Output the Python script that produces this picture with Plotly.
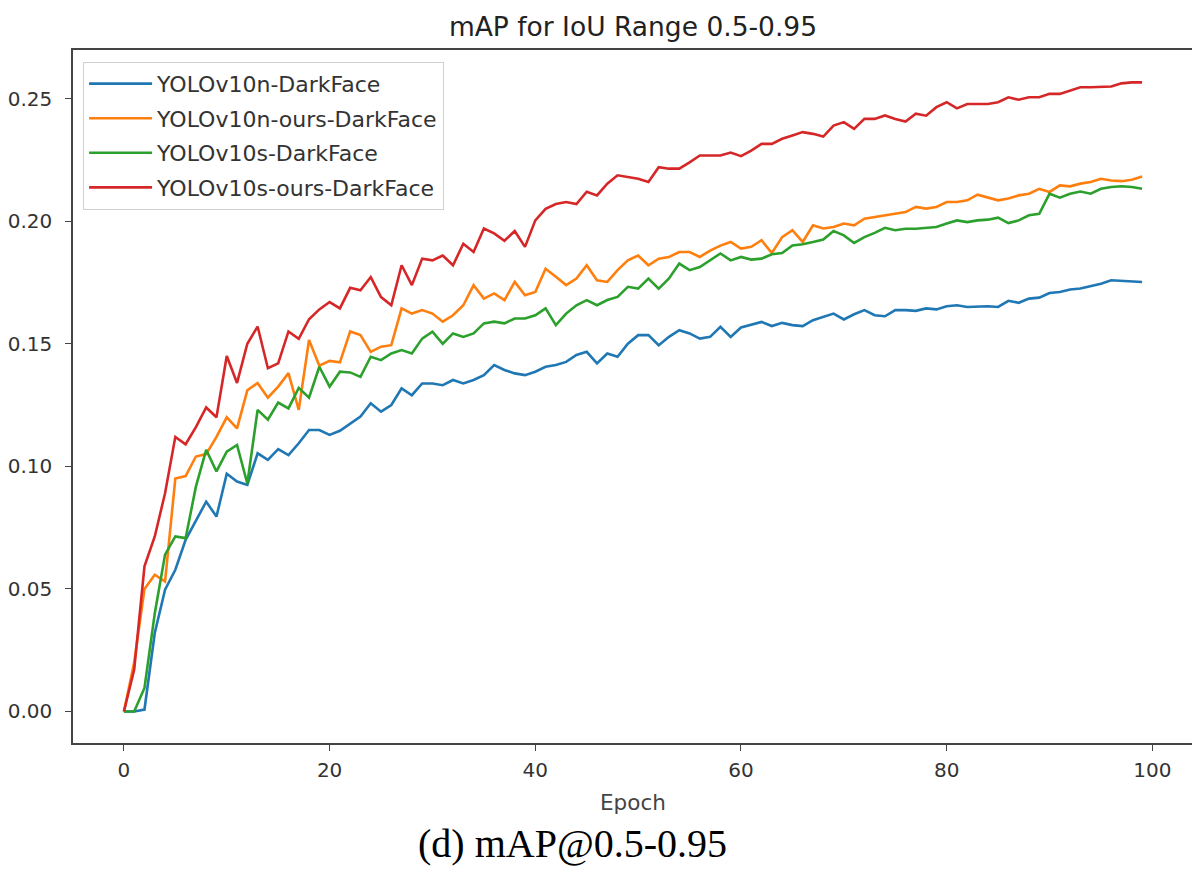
import plotly.graph_objects as go

# epochs 0..99, values
epochs = list(range(100))

yolov10n = [0.0, 0.0, 0.0008, 0.032, 0.0497, 0.0578, 0.070, 0.078, 0.0856, 0.0795,
            0.097, 0.0938, 0.0924, 0.1053, 0.1026, 0.107, 0.1046, 0.1094, 0.1148, 0.1148,
            0.1128, 0.1145, 0.1175, 0.1203, 0.1257, 0.1223, 0.125, 0.1318, 0.129, 0.1338,
            0.1338, 0.1331, 0.1352, 0.1338, 0.1352, 0.1372, 0.1413, 0.1393, 0.1379, 0.1372,
            0.1386, 0.1406, 0.1413, 0.1426, 0.1454, 0.1467, 0.142, 0.146, 0.1447, 0.150,
            0.1535, 0.1535, 0.1494, 0.1528, 0.1555, 0.1542, 0.1521, 0.1528, 0.1569, 0.1528,
            0.1566, 0.1576, 0.1589, 0.1572, 0.1585, 0.1576, 0.1572, 0.1596, 0.161, 0.1623,
            0.1599, 0.162, 0.1637, 0.1616, 0.1612, 0.1637, 0.1637, 0.1634, 0.1644, 0.164,
            0.1653, 0.1657, 0.165, 0.1653, 0.1653, 0.165, 0.1675, 0.1667, 0.1684, 0.1688,
            0.1707, 0.1711, 0.1721, 0.1725, 0.1735, 0.1745, 0.1759, 0.1756, 0.1756, 0.1752]

yolov10n_ours = [0.0, 0.02, 0.050, 0.0558, 0.053, 0.095, 0.096, 0.104, 0.105, 0.112,
                 0.120, 0.1155, 0.131, 0.134, 0.128, 0.1325, 0.138, 0.123, 0.1515, 0.141,
                 0.143, 0.1424, 0.155, 0.1535, 0.1467, 0.1488, 0.1494, 0.1644, 0.1623, 0.1637,
                 0.1623, 0.159, 0.1616, 0.1657, 0.1739, 0.1684, 0.1705, 0.1678, 0.1752, 0.1698,
                 0.1711, 0.1806, 0.1773, 0.1739, 0.1766, 0.182, 0.1759, 0.1752, 0.180, 0.184,
                 0.186, 0.182, 0.1847, 0.1854, 0.1874, 0.1874, 0.1854, 0.188, 0.190, 0.1915,
                 0.1888, 0.1895, 0.1922, 0.187, 0.1935, 0.1963, 0.1915, 0.1983, 0.197, 0.1976,
                 0.199, 0.1983, 0.201, 0.2017, 0.2024, 0.203, 0.2037, 0.2058, 0.2051, 0.2058,
                 0.2078, 0.2078, 0.2085, 0.2108, 0.2098, 0.2085, 0.2092, 0.2105, 0.2112, 0.2132,
                 0.2119, 0.2146, 0.2142, 0.2153, 0.216, 0.2173, 0.2166, 0.2163, 0.2169, 0.2182]

yolov10s = [0.0, 0.0, 0.0096, 0.040, 0.064, 0.0714, 0.0707, 0.0917, 0.1067, 0.0979,
            0.106, 0.1087, 0.093, 0.123, 0.119, 0.126, 0.1236, 0.132, 0.128, 0.1406,
            0.1325, 0.1386, 0.1383, 0.1365, 0.1447, 0.1433, 0.146, 0.1474, 0.146, 0.1521,
            0.1549, 0.150, 0.1542, 0.1528, 0.1542, 0.1583, 0.159, 0.1583, 0.1603, 0.1603,
            0.1616, 0.1644, 0.1576, 0.1623, 0.1657, 0.1678, 0.1657, 0.1678, 0.1691, 0.1732,
            0.1725, 0.1766, 0.1725, 0.1766, 0.1827, 0.180, 0.1813, 0.184, 0.1868, 0.184,
            0.1854, 0.1843, 0.1847, 0.1865, 0.187, 0.1901, 0.1906, 0.1915, 0.1925, 0.196,
            0.1942, 0.1911, 0.1935, 0.1952, 0.1973, 0.1963, 0.1969, 0.1969, 0.1973, 0.1976,
            0.199, 0.2003, 0.1996, 0.2003, 0.2006, 0.2014, 0.1992, 0.2003, 0.2024, 0.203,
            0.2112, 0.2096, 0.2112, 0.2121, 0.2112, 0.2132, 0.2139, 0.2142, 0.2139, 0.2132]

yolov10s_ours = [0.0, 0.0171, 0.0592, 0.0714, 0.089, 0.112, 0.109, 0.116, 0.124, 0.120,
                 0.145, 0.134, 0.150, 0.157, 0.140, 0.142, 0.155, 0.152, 0.160, 0.164,
                 0.167, 0.1644, 0.1728, 0.1718, 0.1772, 0.169, 0.1657, 0.182, 0.1739, 0.1847,
                 0.184, 0.186, 0.182, 0.1908, 0.1874, 0.197, 0.195, 0.192, 0.196, 0.1895,
                 0.2003, 0.205, 0.207, 0.2078, 0.207, 0.212, 0.2105, 0.2153, 0.2187, 0.218,
                 0.2173, 0.216, 0.222, 0.2214, 0.2214, 0.224, 0.2268, 0.2268, 0.2268, 0.228,
                 0.2265, 0.2288, 0.2315, 0.2315, 0.2336, 0.2349, 0.2363, 0.2356, 0.2345, 0.239,
                 0.2404, 0.2376, 0.2417, 0.2417, 0.2431, 0.2417, 0.2406, 0.2438, 0.243, 0.2465,
                 0.2485, 0.246, 0.2478, 0.2478, 0.2478, 0.2485, 0.2505, 0.2495, 0.2505, 0.2505,
                 0.2519, 0.2519, 0.2533, 0.2546, 0.2546, 0.2546, 0.2549, 0.2562, 0.2566, 0.2566]

names = ["YOLOv10n-DarkFace", "YOLOv10n-ours-DarkFace", "YOLOv10s-DarkFace", "YOLOv10s-ours-DarkFace"]
series = [yolov10n, yolov10n_ours, yolov10s, yolov10s_ours]
colors = ["#1f77b4", "#ff7f0e", "#2ca02c", "#d62728"]

x_ticks = [0, 20, 40, 60, 80, 100]
y_ticks = [0.0, 0.05, 0.10, 0.15, 0.20, 0.25]

fig = go.Figure()
for name, vals, col in zip(names, series, colors):
    fig.add_trace(go.Scatter(x=epochs, y=vals, mode="lines", name=name, legendgroup=name,
                             line=dict(color=col, width=2.6)))

axis_style = dict(showline=True, mirror=True, linecolor="#444", linewidth=1.6,
                  ticks="outside", ticklen=6, tickwidth=1.4, tickcolor="#444",
                  showgrid=False, zeroline=False, automargin=False,
                  tickfont=dict(family="DejaVu Sans", size=20, color="#333"))

# page has an 8px body margin, so the margins are shifted by 8px
fig.update_layout(
    width=1200, height=872,
    margin=dict(l=65, r=15, t=42, b=137),
    paper_bgcolor="white", plot_bgcolor="white",
    title=dict(text="mAP for IoU Range 0.5-0.95", x=625 / 1200, xanchor="center",
               yref="container", y=1 - 19 / 872, yanchor="middle",
               font=dict(family="DejaVu Sans", size=26.5, color="#222")),
    xaxis=dict(range=[-4.95, 103.95], tickvals=x_ticks, ticklabelstandoff=2, **axis_style),
    yaxis=dict(range=[-0.01285, 0.2698], tickvals=y_ticks, tickformat=".2f",
               ticklabelstandoff=9, **axis_style),
    legend=dict(x=0.009, y=0.983, xanchor="left", yanchor="top",
                bgcolor="rgba(255,255,255,0.85)", bordercolor="#d0d0d0", borderwidth=1,
                font=dict(family="DejaVu Sans", size=22, color="#333"),
                itemwidth=63, tracegroupgap=3),
    showlegend=True,
)

fig.add_annotation(text="Epoch", xref="paper", yref="paper", x=0.5, y=(743 - 802) / 693,
                   xanchor="center", yanchor="middle", showarrow=False,
                   font=dict(family="DejaVu Sans", size=21.5, color="#444"))
fig.add_annotation(text="(d) mAP@0.5-0.95", xref="paper", yref="paper",
                   x=(572.5 - 73) / 1120, y=(743 - 843) / 693,
                   xanchor="center", yanchor="middle", showarrow=False,
                   font=dict(family="Liberation Serif", size=40, color="black"))

fig.write_html("out.html")
